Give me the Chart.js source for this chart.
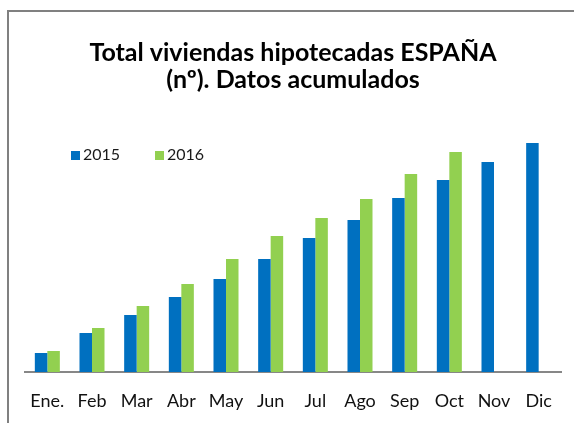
<!DOCTYPE html>
<html>
<head>
<meta charset="utf-8">
<script src="https://cdn.jsdelivr.net/npm/chart.js@4.4.0/dist/chart.umd.min.js"></script>
<style>
    body { margin: 0; background: #fff; }
    #wrap { position: relative; width: 574px; height: 423px; overflow: hidden; }
    #marco {
        position: absolute; left: 7px; top: 10px; width: 700px; height: 500px;
        border-left: 2px solid #808080; border-top: 2px solid #808080;
        pointer-events: none;
    }
    .leyenda { position: absolute; top: 144px; font: 16px Lato, sans-serif; color: #1a1a1a; line-height: 19px; }
    .leyenda span.caja { display: inline-block; width: 9px; height: 9px; margin-right: 3px; vertical-align: 0px; }
</style>
</head>
<body>
<div id="wrap">
    <canvas id="graficoHipotecas" width="574" height="423"></canvas>
    <div id="marco"></div>
    <div class="leyenda" style="left:71px"><span class="caja" id="caja2015"></span>2015</div>
    <div class="leyenda" style="left:155px"><span class="caja" id="caja2016"></span>2016</div>
</div>
<script>
// meses
const meses = ['Ene.', 'Feb', 'Mar', 'Abr', 'May', 'Jun', 'Jul', 'Ago', 'Sep', 'Oct', 'Nov', 'Dic'];

// viviendas hipotecadas, datos acumulados (estimados del grafico)
const datos2015 = [20300, 41700, 61000, 80200, 99500, 120900, 143400, 162600, 186200, 205400, 224700, 245000];
const datos2016 = [22500, 47100, 70600, 94200, 120900, 145500, 164800, 185100, 211900, 235400, null, null];

const azul = '#0070C0';
const verde = '#92D050';

document.getElementById('caja2015').style.background = azul;
document.getElementById('caja2016').style.background = verde;

const ctx = document.getElementById('graficoHipotecas');

const chart1 = new Chart(ctx, {
    type: 'bar',
    data: {
        labels: meses,
        datasets: [{
            label: '2015',
            data: datos2015,
            backgroundColor: azul,
            borderWidth: 0,
        }, {
            label: '2016',
            data: datos2016,
            backgroundColor: verde,
            borderWidth: 0,
        }]
    },
    options: {
        responsive: false,
        animation: false,
        layout: {
            padding: { left: 25, right: 13, top: 12, bottom: 0 }
        },
        datasets: {
            bar: { categoryPercentage: 0.56, barPercentage: 1.0 }
        },
        plugins: {
            legend: { display: false },
            tooltip: { enabled: false },
            title: {
                display: true,
                text: ['Total viviendas hipotecadas ESPAÑA', '(nº). Datos acumulados'],
                color: '#000',
                font: { family: 'Lato', size: 25, weight: 'bold', lineHeight: '27px' },
                padding: { top: 27, bottom: 36 }
            }
        },
        scales: {
            x: {
                grid: { display: false, drawTicks: false },
                border: { display: true, color: '#878787', width: 2 },
                ticks: {
                    color: '#111',
                    padding: 18,
                    font: { family: 'Lato', size: 18 }
                },
                // alto fijo del eje para que la linea quede donde en el original
                afterFit: (scale) => {
                    scale.height = 51;
                }
            },
            y: {
                display: false,
                min: 0,
                max: 260000
            }
        }
    }
});
</script>
</body>
</html>
